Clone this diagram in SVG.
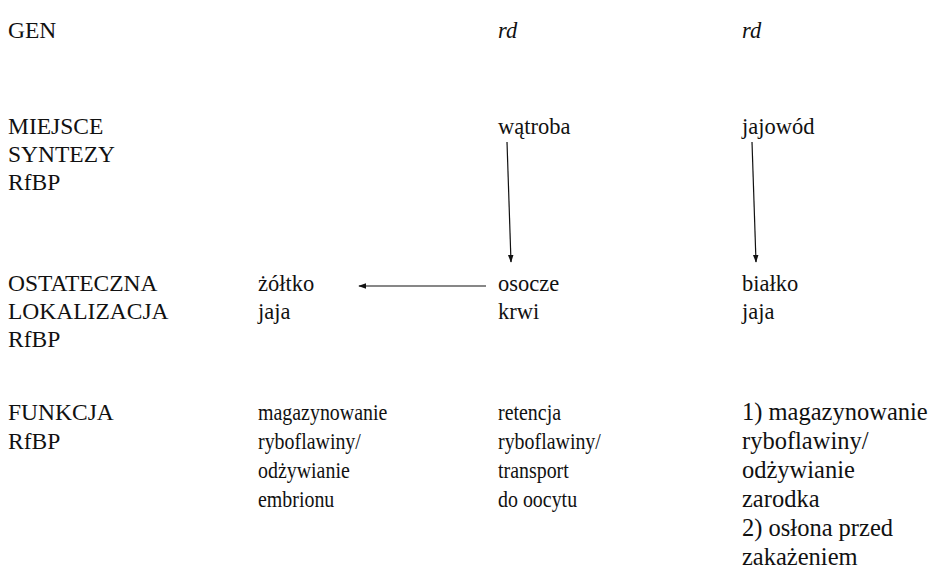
<svg xmlns="http://www.w3.org/2000/svg" width="932" height="572" viewBox="0 0 932 572">
<defs>
<style>
text{font-family:"Liberation Serif","Times New Roman",serif;font-size:23.5px;fill:#111}
.it{font-style:italic}
.v{font-size:22.5px}
.b{font-size:24px}
.r{font-size:24.5px}
.c{stroke:#111;stroke-width:1.2;fill:none}
</style>
<marker id="ah" viewBox="0 0 10 10" refX="9" refY="5" markerWidth="8" markerHeight="8" markerUnits="userSpaceOnUse" orient="auto"><path d="M0,1.5 L10,5 L0,8.5 z" fill="#111"/></marker>
</defs>
<rect width="932" height="572" fill="#fff"/>
<g id="labels">
<text x="8" y="38">GEN</text>
<text x="8" y="134">MIEJSCE</text><text x="8" y="162">SYNTEZY</text><text x="8" y="190">RfBP</text>
<text x="8" y="291">OSTATECZNA</text><text x="8" y="319">LOKALIZACJA</text><text x="8" y="347">RfBP</text>
<text x="8" y="420">FUNKCJA</text><text x="8" y="449">RfBP</text>
</g>
<g id="gen1"><text class="it v" x="498" y="38">rd</text></g>
<g id="gen2"><text class="it v" x="742" y="38">rd</text></g>
<g id="watroba"><text class="v" x="498" y="134">wątroba</text></g>
<g id="jajowod"><text class="v" x="742" y="134">jajowód</text></g>
<g id="zoltko"><text class="v" x="258" y="291">żółtko</text><text class="v" x="258" y="319">jaja</text></g>
<g id="osocze"><text class="v" x="498" y="291">osocze</text><text class="v" x="498" y="319">krwi</text></g>
<g id="bialko"><text class="v" x="742" y="291">białko</text><text class="v" x="742" y="319">jaja</text></g>
<g id="f1" transform="matrix(0.83,0,0,1,258,0)"><text class="b" x="0" y="420">magazynowanie</text><text class="b" x="0" y="449">ryboflawiny/</text><text class="b" x="0" y="478">odżywianie</text><text class="b" x="0" y="507">embrionu</text></g>
<g id="f2" transform="matrix(0.83,0,0,1,498,0)"><text class="b" x="0" y="420">retencja</text><text class="b" x="0" y="449">ryboflawiny/</text><text class="b" x="0" y="478">transport</text><text class="b" x="0" y="507">do oocytu</text></g>
<g id="f3"><text class="r" x="742" y="420">1) magazynowanie</text><text class="r" x="742" y="449">ryboflawiny/</text><text class="r" x="742" y="478">odżywianie</text><text class="r" x="742" y="507">zarodka</text><text class="r" x="742" y="536">2) osłona przed</text><text class="r" x="742" y="565">zakażeniem</text></g>
<g id="connectors">
<line class="c" x1="507" y1="142" x2="511" y2="262" marker-end="url(#ah)"/>
<line class="c" x1="752" y1="142" x2="756" y2="262" marker-end="url(#ah)"/>
<line class="c" x1="486" y1="286" x2="359" y2="286" marker-end="url(#ah)"/>
</g>
</svg>
